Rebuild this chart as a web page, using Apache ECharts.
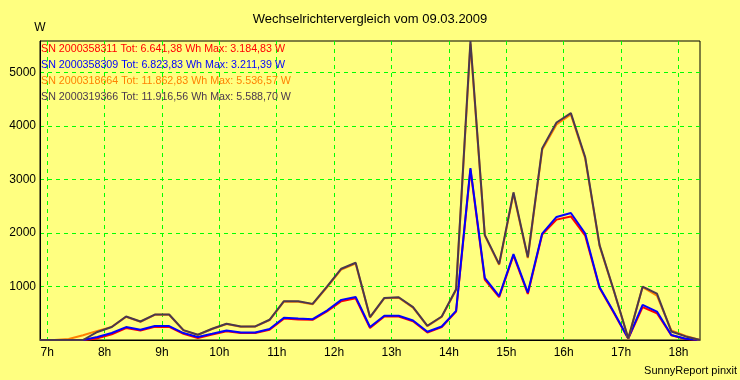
<!DOCTYPE html>
<html>
<head>
<meta charset="utf-8">
<script src="https://cdn.jsdelivr.net/npm/echarts@6/dist/echarts.min.js"></script>
<style>
  html, body { margin: 0; padding: 0; background: #FFFF80; }
  #chart { width: 740px; height: 380px; }
</style>
</head>
<body>
<div id="chart"></div>
<script>
// Time of each sample (decimal hours, 15-minute intervals)
const times = [6.875, 7.125, 7.375, 7.625, 7.875, 8.125, 8.375, 8.625, 8.875, 9.125,
  9.375, 9.625, 9.875, 10.125, 10.375, 10.625, 10.875, 11.125, 11.375, 11.625,
  11.875, 12.125, 12.375, 12.625, 12.875, 13.125, 13.375, 13.625, 13.875, 14.125,
  14.375, 14.625, 14.875, 15.125, 15.375, 15.625, 15.875, 16.125, 16.375, 16.625,
  16.875, 17.125, 17.375, 17.625, 17.875, 18.125, 18.375];

const seriesNames = ['SN 2000358311', 'SN 2000358309', 'SN 2000318664', 'SN 2000319366'];
const totals = ['6.641,38', '6.823,83', '11.862,83', '11.916,56'];
const maxima = ['3.184,83', '3.211,39', '5.536,57', '5.588,70'];
const colors = ['#FF0000', '#0000FF', '#FF8000', '#4A384E'];

const sn311 = [0, 0, 0, 0, 30, 105, 225, 178, 245, 245, 115, 35, 100, 165, 130, 130, 190, 400, 385, 378,
  535, 725, 780, 225, 440, 440, 350, 140, 240, 530, 3184.83, 1130, 800, 1580, 860, 1970, 2250, 2310, 1950, 970,
  505, 25, 614, 500, 90, 20, 0];
const sn309 = [0, 0, 0, 0, 56, 130, 242, 192, 260, 260, 130, 56, 117, 179, 141, 141, 205, 415, 402, 390,
  551, 750, 805, 242, 452, 452, 365, 154, 253, 545, 3211.39, 1159, 818, 1605, 886, 1990, 2300, 2374, 1990, 985,
  520, 30, 657, 532, 95, 25, 0];
const sn664 = [0, 0, 20, 90, 170, 245, 432, 340, 470, 470, 180, 95, 205, 298, 248, 250, 372, 718, 716, 668,
  985, 1318, 1430, 420, 780, 790, 605, 260, 432, 935, 5536.57, 1950, 1405, 2735, 1530, 3555, 4030, 4215, 3390, 1760,
  910, 28, 990, 830, 180, 75, 0];
const sn366 = [0, 0, 0, 0, 150, 242, 440, 346, 476, 476, 185, 99, 210, 303, 253, 253, 378, 725, 725, 675,
  997, 1332, 1443, 428, 787, 800, 614, 266, 439, 950, 5588.70, 1964, 1419, 2760, 1548, 3582, 4066, 4241, 3415, 1773,
  920, 30, 997, 865, 160, 67, 0];

const values = [sn311, sn309, sn664, sn366];
const yMax = 5588.70;

const font = 'Liberation Sans, Arial, sans-serif';
const chart = echarts.init(document.getElementById('chart'), null, { renderer: 'canvas' });

chart.setOption({
  animation: false,
  backgroundColor: '#FFFF80',
  title: [
    {
      text: 'Wechselrichtervergleich vom 09.03.2009',
      left: 'center', top: 13, padding: 0,
      textStyle: { fontFamily: font, fontSize: 13, fontWeight: 'normal', color: '#000' }
    },
    {
      text: 'SunnyReport pinxit',
      right: 3, top: 365, padding: 0,
      textStyle: { fontFamily: font, fontSize: 11, fontWeight: 'normal', color: '#000' }
    }
  ],
  legend: {
    orient: 'vertical',
    left: 36, top: 41, padding: 0,
    itemGap: 0, itemWidth: 0, itemHeight: 0,
    selectedMode: false,
    data: seriesNames.map((n, i) => ({ name: n, icon: 'none', textStyle: { color: colors[i] } })),
    formatter: name => {
      const i = seriesNames.indexOf(name);
      return name + ' Tot: ' + totals[i] + ' Wh Max: ' + maxima[i] + ' W';
    },
    textStyle: { fontFamily: font, fontSize: 10.7, lineHeight: 16 }
  },
  grid: {
    left: 40, right: 40, top: 41, bottom: 40,
    show: true, borderColor: '#000', borderWidth: 1, backgroundColor: 'transparent'
  },
  xAxis: {
    type: 'value',
    min: times[0], max: times[times.length - 1],
    splitNumber: 11, minInterval: 1, maxInterval: 1,
    axisLine: { show: true, lineStyle: { color: '#000', width: 1 } },
    axisTick: { show: false },
    axisLabel: {
      margin: 7, color: '#000', fontFamily: font, fontSize: 12,
      showMinLabel: false, showMaxLabel: false,
      formatter: v => (Math.abs(v - Math.round(v)) < 1e-6 ? Math.round(v) + 'h' : '')
    },
    splitLine: {
      show: true, showMinLine: false, showMaxLine: false,
      lineStyle: { color: '#00FF00', type: [4, 4], width: 1 }
    }
  },
  yAxis: {
    type: 'value',
    min: 0, max: yMax, interval: 1000,
    name: 'W', nameLocation: 'end', nameGap: 7,
    nameTextStyle: { color: '#000', fontFamily: font, fontSize: 12, align: 'center' },
    axisLine: { show: true, lineStyle: { color: '#000', width: 1 } },
    axisTick: { show: false },
    axisLabel: {
      margin: 4, color: '#000', fontFamily: font, fontSize: 12,
      formatter: v => (v > 0 && v % 1000 === 0 ? String(v) : '')
    },
    splitLine: {
      show: true, showMinLine: false, showMaxLine: false,
      lineStyle: { color: '#00FF00', type: [4, 4], width: 1 }
    }
  },
  series: seriesNames.map((n, i) => ({
    name: n,
    type: 'line',
    symbol: 'none',
    color: colors[i],
    lineStyle: { color: colors[i], width: 2 },
    data: times.map((t, k) => [t, values[i][k]])
  }))
});
</script>
</body>
</html>
